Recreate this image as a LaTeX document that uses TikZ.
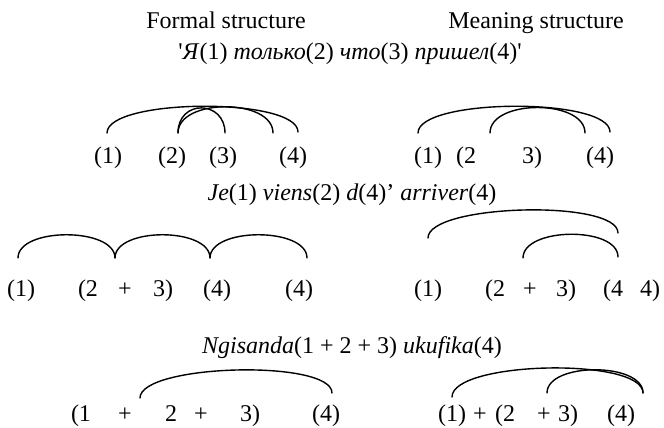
\documentclass[tikz,border=0pt]{standalone}
\usepackage{fontspec}
\newfontfamily\tnr{Liberation Serif}
\begin{document}
\begin{tikzpicture}[x=1bp,y=-1bp,
  font=\tnr\fontsize{24bp}{28bp}\selectfont,
  lbl/.style={inner sep=0pt, anchor=base},
  arc/.style={line width=1.4bp, line cap=round}]
\useasboundingbox (0,0) rectangle (664,427);
% headers
\node[lbl] (hf) at (226,28) {Formal structure};
\node[lbl] (hm) at (536,28) {Meaning structure};
% example lines
\node[lbl] (ex1) at (350,59) {\textquotesingle\textit{Я}(1) \textit{только}(2) \textit{что}(3) \textit{пришел}(4)\textquotesingle};
\node[lbl] (ex2) at (352,200) {\textit{Je}(1) \textit{viens}(2) \textit{d}(4)’ \textit{arriver}(4)};
\node[lbl] (ex3) at (352,353) {\textit{Ngisanda}(1 + 2 + 3) \textit{ukufika}(4)};
% row 1 formal
\node[lbl] (a1) at (108,163) {(1)};
\node[lbl] (a2) at (172,163) {(2)};
\node[lbl] (a3) at (223,163) {(3)};
\node[lbl] (a4) at (293,163) {(4)};
\coordinate (a1e) at (107,133);
\coordinate (a2e) at (178,133);
\coordinate (a3e) at (225,133);
\coordinate (a4i) at (273,133);
\coordinate (a4e) at (298,132);
\draw[arc] (a1e) .. controls +(0,-35) and +(0,-35) .. (a4e);
\draw[arc] (a2e) .. controls +(0,-34) and +(0,-33) .. (a3e);
\draw[arc] (a2e) .. controls +(0,-35) and +(0,-35) .. (a4i);
% row 1 meaning
\node[lbl] (b1) at (428,163) {(1)};
\node[lbl] (b2) at (466,163) {(2};
\node[lbl] (b3) at (532,163) {3)};
\node[lbl] (b4) at (600,163) {(4)};
\coordinate (b1e) at (418,133);
\coordinate (b2e) at (490,133);
\coordinate (b4i) at (585,133);
\coordinate (b4e) at (610,132);
\draw[arc] (b1e) .. controls +(0,-35) and +(0,-35) .. (b4e);
\draw[arc] (b2e) .. controls +(0,-34) and +(0,-34) .. (b4i);
% row 2 formal
\node[lbl] (c1) at (21,296) {(1)};
\node[lbl] (c2) at (88,296) {(2};
\node[lbl] (cp) at (125,296) {+};
\node[lbl] (c3) at (163,296) {3)};
\node[lbl] (c4) at (217,296) {(4)};
\node[lbl] (c5) at (299,296) {(4)};
\coordinate (c1e) at (18,258);
\coordinate (c2e) at (115,258);
\coordinate (c3e) at (210,258);
\coordinate (c4e) at (307,258);
\draw[arc] (c1e) .. controls +(0,-31) and +(0,-31) .. (c2e);
\draw[arc] (c2e) .. controls +(0,-31) and +(0,-31) .. (c3e);
\draw[arc] (c3e) .. controls +(0,-31) and +(0,-31) .. (c4e);
% row 2 meaning
\node[lbl] (d1) at (428,296) {(1)};
\node[lbl] (d2) at (495,296) {(2};
\node[lbl] (dp) at (530,296) {+};
\node[lbl] (d3) at (566,296) {3)};
\node[lbl] (d4) at (613,296) {(4};
\node[lbl] (d5) at (650,296) {4)};
\coordinate (d1e) at (428,238);
\coordinate (d2e) at (523,258);
\coordinate (d4e) at (618,233);
\coordinate (d4i) at (618,257);
\draw[arc] (d1e) .. controls +(0,-34) and +(0,-34) .. (d4e);
\draw[arc] (d2e) .. controls +(0,-31) and +(0,-31) .. (d4i);
% row 3 formal
\node[lbl] (e1) at (81,421) {(1};
\node[lbl] (ep1) at (125,421) {+};
\node[lbl] (e2) at (171,421) {2};
\node[lbl] (ep2) at (201,421) {+};
\node[lbl] (e3) at (250,421) {3)};
\node[lbl] (e4) at (326,421) {(4)};
\coordinate (e2e) at (140,398);
\coordinate (e4e) at (332,393);
\draw[arc] (e2e) .. controls +(0,-34) and +(0,-34) .. (e4e);
% row 3 meaning
\node[lbl] (g1) at (452,421) {(1)};
\node[lbl] (gp1) at (480,421) {+};
\node[lbl] (g2) at (505,421) {(2};
\node[lbl] (gp2) at (544,421) {+};
\node[lbl] (g3) at (568,421) {3)};
\node[lbl] (g4) at (621,421) {(4)};
\coordinate (g1e) at (452,397);
\coordinate (g2e) at (547,393);
\coordinate (g4e) at (643,393);
\draw[arc] (g1e) .. controls +(0,-36) and +(0,-36) .. (g4e);
\draw[arc] (g2e) .. controls +(0,-31) and +(0,-31) .. (g4e);
\end{tikzpicture}
\end{document}
